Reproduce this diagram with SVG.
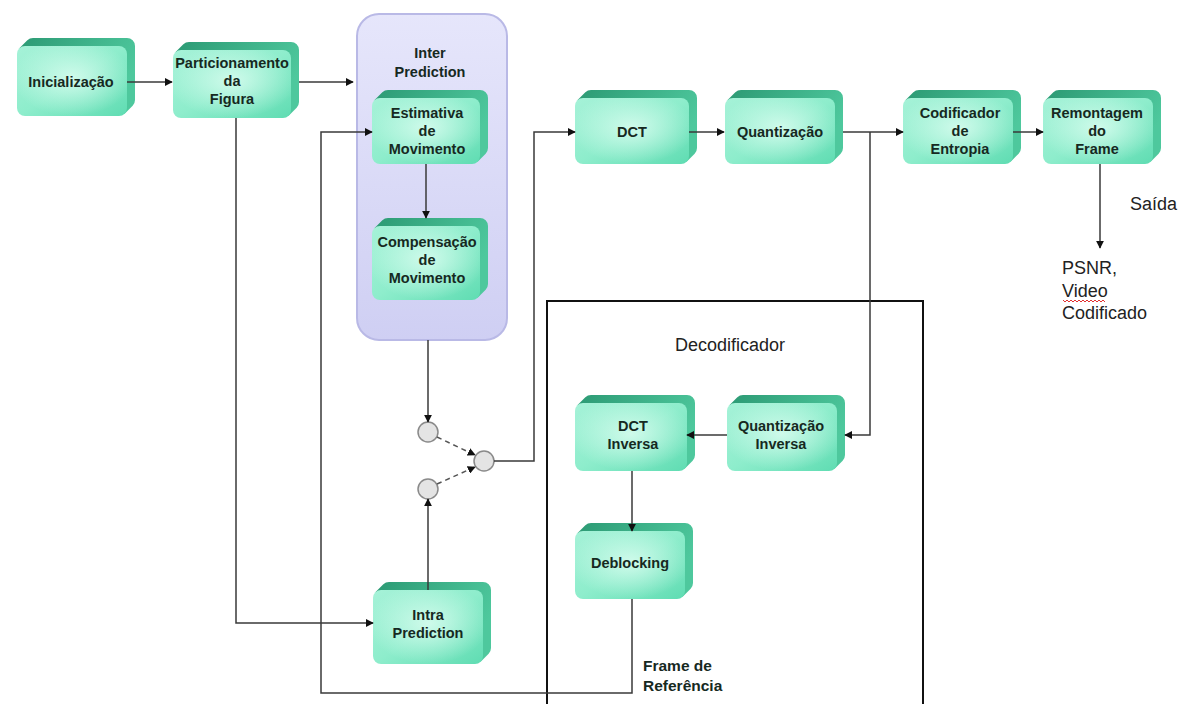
<svg xmlns="http://www.w3.org/2000/svg" width="1188" height="704" viewBox="0 0 1188 704">
  <defs>
    <linearGradient id="faceGrad" x1="0" y1="0" x2="1" y2="1">
      <stop offset="0" stop-color="#a6f2d8"/>
      <stop offset="0.5" stop-color="#8eedcc"/>
      <stop offset="1" stop-color="#5fdcb2"/>
    </linearGradient>
    <radialGradient id="faceGlow" cx="0.5" cy="0.45" r="0.55">
      <stop offset="0" stop-color="#d6fcee" stop-opacity="0.9"/>
      <stop offset="1" stop-color="#d6fcee" stop-opacity="0"/>
    </radialGradient>
    <linearGradient id="backGrad" x1="0" y1="0" x2="1" y2="0.4">
      <stop offset="0" stop-color="#2c9a74"/>
      <stop offset="1" stop-color="#4ec89d"/>
    </linearGradient>
    <linearGradient id="interGrad" x1="0" y1="0" x2="0" y2="1">
      <stop offset="0" stop-color="#e6e6fb"/>
      <stop offset="1" stop-color="#cfcff3"/>
    </linearGradient>
    <marker id="arrow" viewBox="0 0 10 10" refX="9" refY="5" markerWidth="8" markerHeight="8" markerUnits="userSpaceOnUse" orient="auto">
      <path d="M0,0 L10,5 L0,10 z" fill="#111"/>
    </marker>
    <style>
      .back { fill: url(#backGrad); }
      .front { fill: url(#faceGrad); }
      .glow { fill: url(#faceGlow); }
      .lbl { font-family: "Liberation Sans", Arial, sans-serif; font-weight: bold; font-size: 14.5px; fill: #16291f; text-anchor: middle; }
      .note { font-family: "Liberation Sans", Arial, sans-serif; font-weight: bold; font-size: 15.5px; fill: #16291f; }
      .plain { font-family: "Liberation Sans", Arial, sans-serif; font-size: 18px; fill: #222; }
      .wire { fill: none; stroke: #3a3a3a; stroke-width: 1.5; }
      .dash { fill: none; stroke: #555; stroke-width: 1.5; stroke-dasharray: 5 4; }
      .sw { fill: #e4e4e4; stroke: #8a8a8a; stroke-width: 1.5; }
    </style>
  </defs>

  <rect width="1188" height="704" fill="#ffffff"/>

  <!-- Inter Prediction container -->
  <g id="inter-prediction">
    <rect x="357" y="14" width="150" height="326" rx="22" fill="url(#interGrad)" stroke="#b9b9e6" stroke-width="2"/>
    <text class="lbl" x="430" y="58">Inter</text>
    <text class="lbl" x="430" y="77">Prediction</text>
  </g>

  <!-- Decoder outline -->
  <g id="decodificador">
    <path d="M547,706 V301 H923 V706" fill="none" stroke="#111" stroke-width="2"/>
    <text class="plain" x="730" y="351" text-anchor="middle">Decodificador</text>
  </g>

  <!-- Processing blocks: extruded bevel behind a rounded front face -->
  <g id="inicializacao">
    <path class="back" d="M19.34,48.34 l8,-8 a8,8 0 0 1 5.66,-2.34 h94 a8,8 0 0 1 8,8 v54 a8,8 0 0 1 -2.34,5.66 l-8,8 z"/>
    <rect class="front" x="17" y="46" width="110" height="70" rx="8"/>
    <rect class="glow" x="17" y="46" width="110" height="70" rx="8"/>
    <text class="lbl" x="71" y="87">Inicialização</text>
  </g>

  <g id="particionamento">
    <path class="back" d="M175.34,52.34 l8,-8 a8,8 0 0 1 5.66,-2.34 h102 a8,8 0 0 1 8,8 v52 a8,8 0 0 1 -2.34,5.66 l-8,8 z"/>
    <rect class="front" x="173" y="50" width="118" height="68" rx="8"/>
    <rect class="glow" x="173" y="50" width="118" height="68" rx="8"/>
    <text class="lbl" x="232" y="68">Particionamento</text>
    <text class="lbl" x="232" y="86">da</text>
    <text class="lbl" x="232" y="104">Figura</text>
  </g>

  <g id="estimativa">
    <path class="back" d="M374.34,100.34 l8,-8 a8,8 0 0 1 5.66,-2.34 h92 a8,8 0 0 1 8,8 v50 a8,8 0 0 1 -2.34,5.66 l-8,8 z"/>
    <rect class="front" x="372" y="98" width="108" height="66" rx="8"/>
    <rect class="glow" x="372" y="98" width="108" height="66" rx="8"/>
    <text class="lbl" x="427" y="118">Estimativa</text>
    <text class="lbl" x="427" y="136">de</text>
    <text class="lbl" x="427" y="154">Movimento</text>
  </g>

  <g id="compensacao">
    <path class="back" d="M374.34,228.34 l8,-8 a8,8 0 0 1 5.66,-2.34 h92 a8,8 0 0 1 8,8 v58 a8,8 0 0 1 -2.34,5.66 l-8,8 z"/>
    <rect class="front" x="372" y="226" width="108" height="74" rx="8"/>
    <rect class="glow" x="372" y="226" width="108" height="74" rx="8"/>
    <text class="lbl" x="427" y="247">Compensação</text>
    <text class="lbl" x="427" y="265">de</text>
    <text class="lbl" x="427" y="283">Movimento</text>
  </g>

  <g id="dct">
    <path class="back" d="M577.34,100.34 l8,-8 a8,8 0 0 1 5.66,-2.34 h98 a8,8 0 0 1 8,8 v50 a8,8 0 0 1 -2.34,5.66 l-8,8 z"/>
    <rect class="front" x="575" y="98" width="114" height="66" rx="8"/>
    <rect class="glow" x="575" y="98" width="114" height="66" rx="8"/>
    <text class="lbl" x="632" y="137">DCT</text>
  </g>

  <g id="quantizacao">
    <path class="back" d="M727.34,100.34 l8,-8 a8,8 0 0 1 5.66,-2.34 h94 a8,8 0 0 1 8,8 v50 a8,8 0 0 1 -2.34,5.66 l-8,8 z"/>
    <rect class="front" x="725" y="98" width="110" height="66" rx="8"/>
    <rect class="glow" x="725" y="98" width="110" height="66" rx="8"/>
    <text class="lbl" x="780" y="137">Quantização</text>
  </g>

  <g id="codificador">
    <path class="back" d="M905.34,100.34 l8,-8 a8,8 0 0 1 5.66,-2.34 h94 a8,8 0 0 1 8,8 v50 a8,8 0 0 1 -2.34,5.66 l-8,8 z"/>
    <rect class="front" x="903" y="98" width="110" height="66" rx="8"/>
    <rect class="glow" x="903" y="98" width="110" height="66" rx="8"/>
    <text class="lbl" x="960" y="118">Codificador</text>
    <text class="lbl" x="960" y="136">de</text>
    <text class="lbl" x="960" y="154">Entropia</text>
  </g>

  <g id="remontagem">
    <path class="back" d="M1045.34,100.34 l8,-8 a8,8 0 0 1 5.66,-2.34 h94 a8,8 0 0 1 8,8 v50 a8,8 0 0 1 -2.34,5.66 l-8,8 z"/>
    <rect class="front" x="1043" y="98" width="110" height="66" rx="8"/>
    <rect class="glow" x="1043" y="98" width="110" height="66" rx="8"/>
    <text class="lbl" x="1097" y="118">Remontagem</text>
    <text class="lbl" x="1097" y="136">do</text>
    <text class="lbl" x="1097" y="154">Frame</text>
  </g>

  <g id="quantizacao-inversa">
    <path class="back" d="M729.34,405.34 l8,-8 a8,8 0 0 1 5.66,-2.34 h94 a8,8 0 0 1 8,8 v52 a8,8 0 0 1 -2.34,5.66 l-8,8 z"/>
    <rect class="front" x="727" y="403" width="110" height="68" rx="8"/>
    <rect class="glow" x="727" y="403" width="110" height="68" rx="8"/>
    <text class="lbl" x="781" y="431">Quantização</text>
    <text class="lbl" x="781" y="449">Inversa</text>
  </g>

  <g id="dct-inversa">
    <path class="back" d="M577.34,405.34 l8,-8 a8,8 0 0 1 5.66,-2.34 h96 a8,8 0 0 1 8,8 v52 a8,8 0 0 1 -2.34,5.66 l-8,8 z"/>
    <rect class="front" x="575" y="403" width="112" height="68" rx="8"/>
    <rect class="glow" x="575" y="403" width="112" height="68" rx="8"/>
    <text class="lbl" x="633" y="431">DCT</text>
    <text class="lbl" x="633" y="449">Inversa</text>
  </g>

  <g id="deblocking">
    <path class="back" d="M577.34,533.34 l8,-8 a8,8 0 0 1 5.66,-2.34 h94 a8,8 0 0 1 8,8 v52 a8,8 0 0 1 -2.34,5.66 l-8,8 z"/>
    <rect class="front" x="575" y="531" width="110" height="68" rx="8"/>
    <rect class="glow" x="575" y="531" width="110" height="68" rx="8"/>
    <text class="lbl" x="630" y="568">Deblocking</text>
  </g>

  <g id="intra-prediction">
    <path class="back" d="M375.34,592.34 l8,-8 a8,8 0 0 1 5.66,-2.34 h94 a8,8 0 0 1 8,8 v58 a8,8 0 0 1 -2.34,5.66 l-8,8 z"/>
    <rect class="front" x="373" y="590" width="110" height="74" rx="8"/>
    <rect class="glow" x="373" y="590" width="110" height="74" rx="8"/>
    <text class="lbl" x="428" y="620">Intra</text>
    <text class="lbl" x="428" y="638">Prediction</text>
  </g>

  <!-- Mode selection switch -->
  <g id="switch">
    <circle class="sw" cx="428" cy="432" r="10"/>
    <circle class="sw" cx="428" cy="489" r="10"/>
    <circle class="sw" cx="484" cy="461" r="10"/>
  </g>

  <!-- Connectors -->
  <g id="connectors">
    <path class="wire" d="M127,82 H172" marker-end="url(#arrow)"/>
    <path class="wire" d="M299,82 H353" marker-end="url(#arrow)"/>
    <path class="wire" d="M426,164 V218" marker-end="url(#arrow)"/>
    <path class="wire" d="M236,118 V623 H373" marker-end="url(#arrow)"/>
    <path class="wire" d="M428,590 V499" marker-end="url(#arrow)"/>
    <path class="wire" d="M428,340 V422" marker-end="url(#arrow)"/>
    <path class="dash" d="M437,437 L475,455" marker-end="url(#arrow)"/>
    <path class="dash" d="M437,484 L475,467" marker-end="url(#arrow)"/>
    <path class="wire" d="M494,461 H534 V132 H575" marker-end="url(#arrow)"/>
    <path class="wire" d="M689,132 H724" marker-end="url(#arrow)"/>
    <path class="wire" d="M843,132 H903" marker-end="url(#arrow)"/>
    <path class="wire" d="M1013,132 H1043" marker-end="url(#arrow)"/>
    <path class="wire" d="M870,132 V435 H845" marker-end="url(#arrow)"/>
    <path class="wire" d="M727,435 H687" marker-end="url(#arrow)"/>
    <path class="wire" d="M632,471 V531" marker-end="url(#arrow)"/>
    <path class="wire" d="M632,599 V693 H321 V132 H372" marker-end="url(#arrow)"/>
    <path class="wire" d="M1100,164 V248" marker-end="url(#arrow)"/>
  </g>

  <!-- Output and reference labels -->
  <g id="labels">
    <text class="plain" x="1130" y="210">Saída</text>
    <text class="plain" x="1062" y="274">PSNR,</text>
    <text class="plain" x="1062" y="297">Video</text>
    <path d="M1063,300 l2,2 l2,-2 l2,2 l2,-2 l2,2 l2,-2 l2,2 l2,-2 l2,2 l2,-2 l2,2 l2,-2 l2,2 l2,-2 l2,2 l2,-2 l2,2 l2,-2 l2,2 l2,-2 l2,2" fill="none" stroke="#e03030" stroke-width="1"/>
    <text class="plain" x="1062" y="319">Codificado</text>
    <text class="note" x="643" y="671">Frame de</text>
    <text class="note" x="643" y="691">Referência</text>
  </g>
</svg>
